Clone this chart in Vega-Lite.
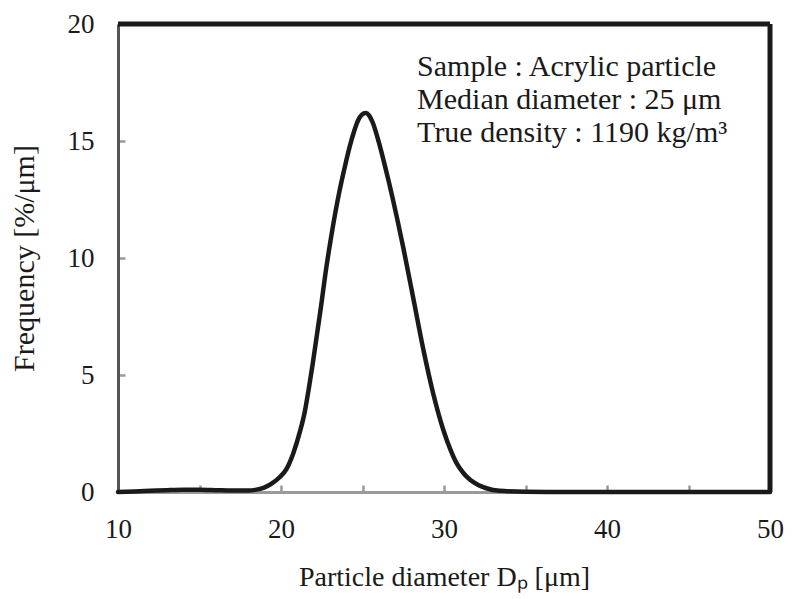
{
  "$schema": "https://vega.github.io/schema/vega-lite/v6.json",
  "width": 652,
  "height": 468,
  "autosize": "none",
  "padding": {"left": 118, "top": 24, "right": 22, "bottom": 107},
  "background": "white",
  "config": {
    "view": {"stroke": null},
    "font": "Liberation Serif"
  },
  "layer": [
    {
      "data": {"values": [
        {"d": 10, "f": 0.0},
        {"d": 11, "f": 0.02},
        {"d": 12, "f": 0.05},
        {"d": 13, "f": 0.08},
        {"d": 14, "f": 0.1},
        {"d": 15, "f": 0.1},
        {"d": 16, "f": 0.08},
        {"d": 17, "f": 0.06},
        {"d": 18, "f": 0.06},
        {"d": 18.5, "f": 0.1},
        {"d": 19.0, "f": 0.2},
        {"d": 19.4, "f": 0.35},
        {"d": 19.9, "f": 0.62},
        {"d": 20.35, "f": 1.0},
        {"d": 20.75, "f": 1.65},
        {"d": 21.17, "f": 2.6},
        {"d": 21.45, "f": 3.4},
        {"d": 21.7, "f": 4.4},
        {"d": 21.95, "f": 5.5},
        {"d": 22.2, "f": 6.7},
        {"d": 22.45, "f": 7.9},
        {"d": 22.7, "f": 9.2},
        {"d": 23.1, "f": 11.0},
        {"d": 23.6, "f": 12.9},
        {"d": 23.95, "f": 14.0},
        {"d": 24.23, "f": 14.8},
        {"d": 24.5, "f": 15.45},
        {"d": 24.74, "f": 15.9},
        {"d": 24.95, "f": 16.12},
        {"d": 25.2, "f": 16.2},
        {"d": 25.4, "f": 16.1},
        {"d": 25.65, "f": 15.75},
        {"d": 26.0, "f": 14.95},
        {"d": 26.3, "f": 14.15},
        {"d": 26.6, "f": 13.3},
        {"d": 27.09, "f": 11.8},
        {"d": 27.5, "f": 10.45},
        {"d": 28.11, "f": 8.3},
        {"d": 28.73, "f": 6.1},
        {"d": 29.34, "f": 4.2},
        {"d": 29.96, "f": 2.65},
        {"d": 30.4, "f": 1.8},
        {"d": 30.78, "f": 1.22},
        {"d": 31.2, "f": 0.8},
        {"d": 31.6, "f": 0.52},
        {"d": 32.1, "f": 0.3},
        {"d": 32.6, "f": 0.16},
        {"d": 33.4, "f": 0.05},
        {"d": 35, "f": 0.01},
        {"d": 37, "f": 0.0},
        {"d": 40, "f": 0.0},
        {"d": 45, "f": 0.0},
        {"d": 50, "f": 0.0}
      ]},
      "mark": {"type": "line", "color": "#1a1a1a", "strokeWidth": 4.5, "interpolate": "monotone", "strokeCap": "round"},
      "encoding": {
        "x": {
          "field": "d", "type": "quantitative",
          "scale": {"domain": [10, 50], "nice": false, "zero": false},
          "axis": {
            "values": [10, 15, 20, 25, 30, 35, 40, 45, 50],
            "labelExpr": "datum.value % 10 === 0 ? datum.label : ''",
            "title": "Particle diameter Dₚ [μm]",
            "titleFont": "Liberation Serif",
            "titleFontSize": 28,
            "titleFontWeight": "normal",
            "titleColor": "#1a1a1a",
            "titlePadding": 21,
            "labelFont": "Liberation Serif",
            "labelFontSize": 27,
            "labelColor": "#1a1a1a",
            "labelPadding": 31,
            "labelFlush": false,
            "grid": false,
            "domainColor": "#9a9a9a",
            "domainWidth": 3,
            "tickColor": "#9a9a9a",
            "tickWidth": 2.5,
            "tickSize": -7
          }
        },
        "y": {
          "field": "f", "type": "quantitative",
          "scale": {"domain": [0, 20], "nice": false},
          "axis": {
            "values": [0, 5, 10, 15, 20],
            "title": "Frequency [%/μm]",
            "titleFont": "Liberation Serif",
            "titleFontSize": 30,
            "titleFontWeight": "normal",
            "titleColor": "#1a1a1a",
            "titlePadding": 28,
            "labelFont": "Liberation Serif",
            "labelFontSize": 27,
            "labelColor": "#1a1a1a",
            "labelPadding": 31,
            "labelFlush": false,
            "grid": false,
            "domainColor": "#555555",
            "domainWidth": 3,
            "tickColor": "#9a9a9a",
            "tickWidth": 2.5,
            "tickSize": -7
          }
        }
      }
    },
    {
      "data": {"values": [
        {"d": 10, "f": 20},
        {"d": 50, "f": 20}
      ]},
      "mark": {"type": "line", "color": "#1a1a1a", "strokeWidth": 5},
      "encoding": {
        "x": {"field": "d", "type": "quantitative"},
        "y": {"field": "f", "type": "quantitative"}
      }
    },
    {
      "data": {"values": [
        {"d": 50, "f": 0},
        {"d": 50, "f": 20}
      ]},
      "mark": {"type": "line", "color": "#1a1a1a", "strokeWidth": 5},
      "encoding": {
        "x": {"field": "d", "type": "quantitative"},
        "y": {"field": "f", "type": "quantitative"}
      }
    },
    {
      "data": {"values": [
        {"d": 28.35, "f": 17.78, "t": "Sample : Acrylic particle"},
        {"d": 28.35, "f": 16.37, "t": "Median diameter : 25 μm"},
        {"d": 28.35, "f": 14.96, "t": "True density : 1190 kg/m³"}
      ]},
      "mark": {"type": "text", "align": "left", "baseline": "alphabetic", "font": "Liberation Serif", "fontSize": 30, "color": "#1a1a1a"},
      "encoding": {
        "x": {"field": "d", "type": "quantitative"},
        "y": {"field": "f", "type": "quantitative"},
        "text": {"field": "t"}
      }
    }
  ]
}
